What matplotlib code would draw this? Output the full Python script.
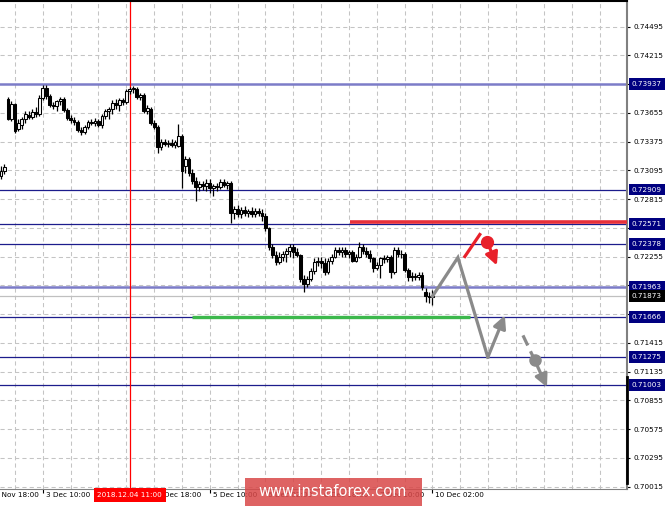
import matplotlib
matplotlib.use('Agg')
import matplotlib.pyplot as plt
import matplotlib.transforms as mtransforms
from matplotlib.patches import Rectangle

# AUDUSD H1 bars, 30 Nov 22:00 .. 10 Dec 02:00 (bar index 0..124)
opens = [0.73044, 0.73093, 0.73792, 0.73598, 0.73744, 0.73501, 0.73540, 0.73598, 0.73637, 0.73617,
         0.73666, 0.73647, 0.73802, 0.73899, 0.73822, 0.73734, 0.73724, 0.73773, 0.73792, 0.73686,
         0.73608, 0.73588, 0.73569, 0.73491, 0.73472, 0.73520, 0.73569, 0.73559, 0.73579, 0.73540,
         0.73627, 0.73676, 0.73695, 0.73754, 0.73734, 0.73783, 0.73763, 0.73870, 0.73890, 0.73890,
         0.73812, 0.73831, 0.73676, 0.73695, 0.73559, 0.73520, 0.73326, 0.73374, 0.73355, 0.73365,
         0.73345, 0.73336, 0.73433, 0.73142, 0.73210, 0.73074, 0.72996, 0.72937, 0.72967, 0.72947,
         0.72976, 0.72928, 0.72947, 0.72937, 0.72986, 0.72957, 0.72976, 0.72685, 0.72724, 0.72675,
         0.72714, 0.72685, 0.72704, 0.72675, 0.72704, 0.72685, 0.72656, 0.72539, 0.72345, 0.72267,
         0.72199, 0.72257, 0.72277, 0.72306, 0.72354, 0.72296, 0.72267, 0.72034, 0.71986, 0.72034,
         0.72112, 0.72199, 0.72218, 0.72189, 0.72102, 0.72218, 0.72257, 0.72325, 0.72296, 0.72316,
         0.72277, 0.72296, 0.72218, 0.72257, 0.72354, 0.72306, 0.72286, 0.72238, 0.72141, 0.72170,
         0.72238, 0.72228, 0.72248, 0.72102, 0.72316, 0.72286, 0.72277, 0.72121, 0.72054, 0.72063,
         0.72054, 0.72073, 0.71908, 0.71870, 0.71860]
highs = [0.73142, 0.73161, 0.73812, 0.73773, 0.73754, 0.73598, 0.73617, 0.73676, 0.73676, 0.73695,
         0.73715, 0.73831, 0.73929, 0.73929, 0.73841, 0.73763, 0.73783, 0.73812, 0.73812, 0.73705,
         0.73637, 0.73617, 0.73588, 0.73520, 0.73540, 0.73588, 0.73598, 0.73608, 0.73598, 0.73647,
         0.73695, 0.73715, 0.73783, 0.73792, 0.73802, 0.73802, 0.73890, 0.73909, 0.73919, 0.73909,
         0.73851, 0.73851, 0.73734, 0.73715, 0.73588, 0.73540, 0.73404, 0.73404, 0.73394, 0.73404,
         0.73394, 0.73549, 0.73452, 0.73239, 0.73229, 0.73113, 0.73035, 0.72996, 0.72996, 0.73015,
         0.73015, 0.72967, 0.72976, 0.73015, 0.73015, 0.72996, 0.72996, 0.72753, 0.72762, 0.72743,
         0.72753, 0.72724, 0.72743, 0.72733, 0.72733, 0.72724, 0.72685, 0.72549, 0.72383, 0.72306,
         0.72296, 0.72306, 0.72335, 0.72383, 0.72374, 0.72335, 0.72286, 0.72073, 0.72063, 0.72141,
         0.72238, 0.72257, 0.72257, 0.72238, 0.72238, 0.72277, 0.72354, 0.72354, 0.72345, 0.72345,
         0.72316, 0.72316, 0.72277, 0.72403, 0.72374, 0.72345, 0.72316, 0.72257, 0.72199, 0.72257,
         0.72267, 0.72267, 0.72267, 0.72354, 0.72345, 0.72316, 0.72296, 0.72141, 0.72102, 0.72092,
         0.72102, 0.72102, 0.71947, 0.71908, 0.71928]
lows = [0.73015, 0.73064, 0.73588, 0.73579, 0.73462, 0.73481, 0.73501, 0.73559, 0.73598, 0.73598,
        0.73617, 0.73627, 0.73783, 0.73792, 0.73715, 0.73695, 0.73676, 0.73734, 0.73666, 0.73588,
        0.73559, 0.73540, 0.73472, 0.73443, 0.73452, 0.73501, 0.73540, 0.73530, 0.73520, 0.73511,
        0.73598, 0.73598, 0.73647, 0.73695, 0.73676, 0.73734, 0.73744, 0.73841, 0.73851, 0.73792,
        0.73783, 0.73656, 0.73647, 0.73540, 0.73501, 0.73268, 0.73297, 0.73336, 0.73326, 0.73326,
        0.73316, 0.73326, 0.72928, 0.73074, 0.73044, 0.72967, 0.72801, 0.72898, 0.72908, 0.72898,
        0.72879, 0.72850, 0.72898, 0.72918, 0.72937, 0.72918, 0.72588, 0.72627, 0.72646, 0.72636,
        0.72656, 0.72646, 0.72646, 0.72646, 0.72656, 0.72607, 0.72510, 0.72325, 0.72238, 0.72170,
        0.72180, 0.72218, 0.72199, 0.72248, 0.72238, 0.72248, 0.72005, 0.71908, 0.71957, 0.72015,
        0.72083, 0.72160, 0.72141, 0.72073, 0.72083, 0.72180, 0.72238, 0.72267, 0.72257, 0.72257,
        0.72238, 0.72199, 0.72199, 0.72238, 0.72277, 0.72257, 0.72199, 0.72102, 0.72121, 0.72044,
        0.72189, 0.72199, 0.72044, 0.72083, 0.72257, 0.72238, 0.72102, 0.72015, 0.72015, 0.72024,
        0.72024, 0.71928, 0.71812, 0.71802, 0.71783]
closes = [0.73093, 0.73132, 0.73598, 0.73744, 0.73481, 0.73559, 0.73598, 0.73647, 0.73617, 0.73666,
          0.73647, 0.73802, 0.73899, 0.73822, 0.73734, 0.73724, 0.73773, 0.73792, 0.73686, 0.73608,
          0.73588, 0.73569, 0.73491, 0.73472, 0.73520, 0.73569, 0.73559, 0.73579, 0.73540, 0.73627,
          0.73676, 0.73695, 0.73754, 0.73734, 0.73783, 0.73763, 0.73870, 0.73890, 0.73899, 0.73812,
          0.73831, 0.73676, 0.73705, 0.73559, 0.73520, 0.73326, 0.73374, 0.73355, 0.73365, 0.73345,
          0.73374, 0.73433, 0.73093, 0.73210, 0.73074, 0.72996, 0.72937, 0.72967, 0.72947, 0.72976,
          0.72928, 0.72947, 0.72937, 0.72986, 0.72957, 0.72976, 0.72685, 0.72724, 0.72675, 0.72714,
          0.72685, 0.72704, 0.72675, 0.72704, 0.72685, 0.72656, 0.72539, 0.72345, 0.72267, 0.72199,
          0.72257, 0.72277, 0.72306, 0.72354, 0.72296, 0.72267, 0.72034, 0.71986, 0.72034, 0.72112,
          0.72199, 0.72218, 0.72189, 0.72102, 0.72218, 0.72257, 0.72325, 0.72296, 0.72316, 0.72277,
          0.72296, 0.72218, 0.72257, 0.72354, 0.72306, 0.72286, 0.72238, 0.72141, 0.72170, 0.72238,
          0.72228, 0.72248, 0.72102, 0.72316, 0.72286, 0.72277, 0.72121, 0.72054, 0.72063, 0.72054,
          0.72073, 0.71957, 0.71870, 0.71860, 0.71873]

# time axis: label every 16 bars
time_tick_bars = [-4, 12, 28, 44, 60, 76, 92, 108, 124]
time_tick_labels = ['30 Nov 18:00', '3 Dec 10:00', '4 Dec 02:00', '4 Dec 18:00', '5 Dec 10:00',
                    '6 Dec 02:00', '6 Dec 18:00', '7 Dec 10:00', '10 Dec 02:00']
crosshair_bar = 37
crosshair_label = '2018.12.04 11:00'

price_ticks = [0.74495, 0.74215, 0.73935, 0.73655, 0.73375, 0.73095, 0.72815, 0.72535, 0.72255,
               0.71975, 0.71695, 0.71415, 0.71135, 0.70855, 0.70575, 0.70295, 0.70015]

# horizontal levels
wide_levels = [0.73937, 0.71963]
thin_levels = [0.72909, 0.72571, 0.72378, 0.71666, 0.71275, 0.71003]
bid_price = 0.71873

# zones
red_zone_start, red_zone_price = 100.3, 0.72592
green_zone_start, green_zone_end, green_zone_price = 54.9, 134.8, 0.71672

# forecast path
path_bars = [124, 131.3, 139.9, 144.8]
path_prices = [0.71870, 0.72247, 0.71276, 0.71684]
alt_bars = [150.0, 153.4, 156.9]
alt_prices = [0.71489, 0.71246, 0.70984]
red_bars = [133.3, 137.6, 139.7, 142.5]
red_prices = [0.72257, 0.72471, 0.72403, 0.72170]

W, H = 665, 507
XMIN, XMAX = -0.29, 179.9
fig = plt.figure(figsize=(W / 100, H / 100), dpi=100)
ax = fig.add_axes([0, 18 / H, 627 / W, 1 - 19 / H])

grid_kw = dict(color='#c4c4c4', lw=0.75, linestyle=(0, (4, 3)), zorder=0)
for p in price_ticks:
    ax.axhline(p, **grid_kw)
for b in range(4, 180, 8):
    ax.axvline(b, **grid_kw)

for p in wide_levels:
    ax.axhline(p, color='#7c7cc8', lw=1.8, zorder=1)
for p in thin_levels:
    ax.axhline(p, color='#1c1c8c', lw=0.9, zorder=1)
ax.axhline(bid_price, color='#c0c0c0', lw=0.9, zorder=1)

ax.axvline(crosshair_bar, color='#ff0000', lw=0.9, zorder=2)

# candles
for i in range(len(closes)):
    o, h, l, c = opens[i], highs[i], lows[i], closes[i]
    ax.vlines(i, l, h, color='black', lw=0.9, zorder=3)
    bull = c >= o
    ax.bar(i, max(abs(c - o), 0.00002), bottom=min(o, c), width=0.8,
           color='#f4f4f4' if bull else 'black', edgecolor='black', linewidth=0.75, zorder=4)

# zones
ax.plot([red_zone_start, XMAX], [red_zone_price] * 2, color='#e8303a', lw=2.6,
        solid_capstyle='butt', zorder=5)
ax.plot([green_zone_start, green_zone_end], [green_zone_price] * 2, color='#3cb84c', lw=2.4,
        solid_capstyle='butt', zorder=5)

# forecast arrows
gray = '#8a8a8a'
ax.plot(path_bars[:3], path_prices[:3], color=gray, lw=2.3, zorder=6, solid_joinstyle='miter')
ax.annotate('', xy=(path_bars[3], path_prices[3]), xytext=(path_bars[2], path_prices[2]),
            arrowprops=dict(arrowstyle='-|>', color=gray, lw=2.3, mutation_scale=19,
                            shrinkA=0, shrinkB=0), zorder=6)
ax.plot(alt_bars[:2], alt_prices[:2], color=gray, lw=2.3, linestyle=(0, (3.5, 2)), zorder=6)
ax.plot(alt_bars[1], alt_prices[1], 'o', color=gray, ms=8, zorder=7)
ax.annotate('', xy=(alt_bars[2], alt_prices[2]), xytext=(alt_bars[1], alt_prices[1]),
            arrowprops=dict(arrowstyle='-|>', color=gray, lw=2.3, mutation_scale=19,
                            shrinkA=0, shrinkB=0), zorder=6)
red = '#e8202a'
ax.plot(red_bars[:2], red_prices[:2], color=red, lw=2.3, zorder=6)
ax.plot(red_bars[2], red_prices[2], 'o', color=red, ms=8.5, zorder=7)
ax.annotate('', xy=(red_bars[3], red_prices[3]), xytext=(red_bars[2], red_prices[2]),
            arrowprops=dict(arrowstyle='-|>', color=red, lw=2.3, mutation_scale=19,
                            shrinkA=0, shrinkB=0), zorder=6)

# axes frame
ax.spines['left'].set_visible(False)
ax.spines['top'].set_color('black')
ax.spines['top'].set_linewidth(1.5)
ax.spines['right'].set_color('#808080')
ax.spines['right'].set_linewidth(1.5)
ax.spines['bottom'].set_color('#808080')
ax.spines['bottom'].set_linewidth(0.8)

fs = 5.2
ax.yaxis.tick_right()
ax.set_yticks(price_ticks)
ax.set_yticklabels(['%.5f' % p for p in price_ticks])
ax.tick_params(axis='y', labelsize=fs, length=2.5, pad=2, color='black')
ax.set_xticks(time_tick_bars)
ax.set_xticklabels([])
ax.tick_params(axis='x', length=3, color='black')

# limits last: set_xticks would widen them
ax.set_xlim(XMIN, XMAX)
ax.set_ylim(0.69993, 0.74745)

yt = mtransforms.blended_transform_factory(ax.transAxes, ax.transData)
xt = mtransforms.blended_transform_factory(ax.transData, ax.transAxes)

for b, lab in zip(time_tick_bars, time_tick_labels):
    ax.annotate(lab, xy=(b, 0), xycoords=xt, xytext=(3, -3), textcoords='offset pixels',
                ha='left', va='top', fontsize=fs, color='black')

ax.annotate(crosshair_label, xy=(crosshair_bar, 0), xycoords=xt, xytext=(0, -3),
            textcoords='offset pixels', ha='center', va='top', fontsize=fs, color='white',
            bbox=dict(boxstyle='square,pad=0.5', fc='#ff0000', ec='none'), zorder=10)

for p in wide_levels + thin_levels:
    ax.annotate('%.5f' % p, xy=(1, p), xycoords=yt, xytext=(5, 0), textcoords='offset pixels',
                ha='left', va='center', fontsize=fs, color='white',
                bbox=dict(boxstyle='square,pad=0.4', fc='#000080', ec='none'), zorder=10)
ax.annotate('%.5f' % bid_price, xy=(1, bid_price), xycoords=yt, xytext=(5, 0),
            textcoords='offset pixels', ha='left', va='center', fontsize=fs, color='white',
            bbox=dict(boxstyle='square,pad=0.4', fc='black', ec='none'), zorder=10)

# scroll marker on price scale
ax.plot([1, 1], [0.71081, 0.70051], transform=yt, color='black', lw=2, clip_on=False, zorder=9)

# watermark
fig.patches.append(Rectangle((245 / W, 1 / H), 177 / W, 28 / H, transform=fig.transFigure,
                             facecolor='#d94848', alpha=0.85, edgecolor='none', zorder=20))
fig.text(333 / W, 15 / H, 'www.instaforex.com', ha='center', va='center', color='white',
         fontsize=10.5, zorder=21)

fig.savefig('out.png', dpi=100)
